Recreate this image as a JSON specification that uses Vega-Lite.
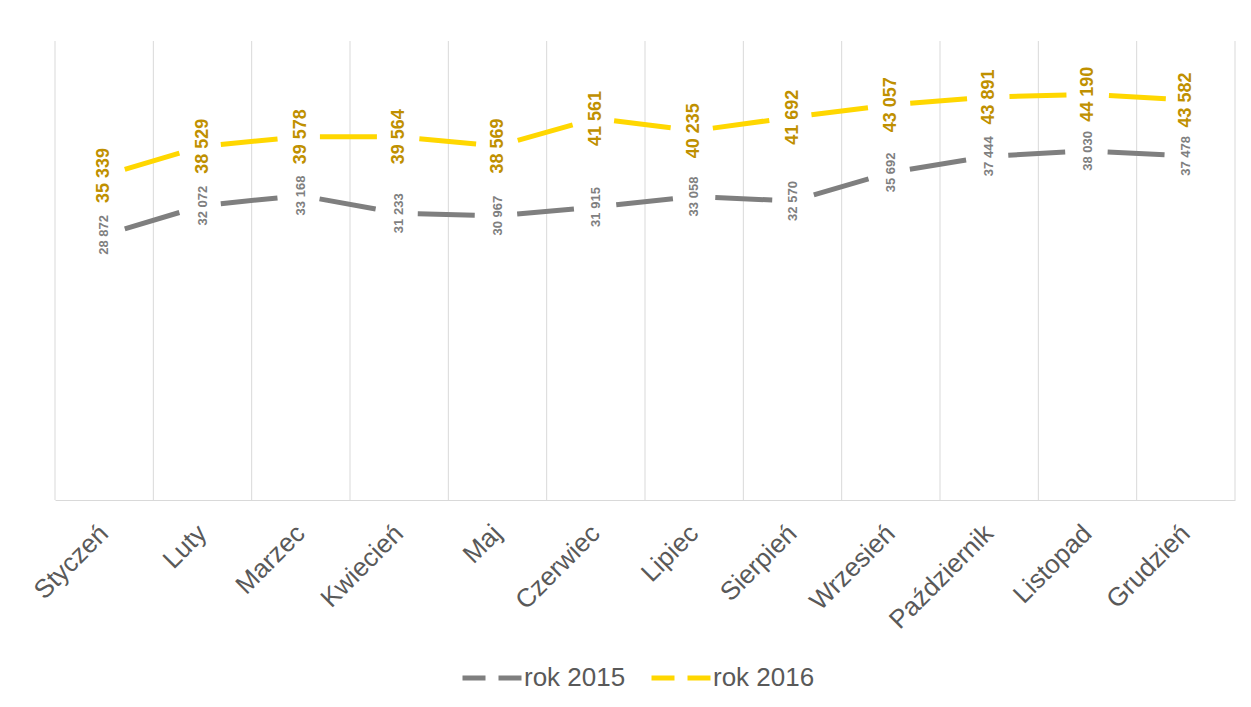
{
  "$schema": "https://vega.github.io/schema/vega-lite/v6.json",
  "width": 1180,
  "height": 459,
  "autosize": {"type": "none"},
  "padding": {"left": 55, "top": 41, "right": 16, "bottom": 207},
  "background": "white",
  "config": {
    "font": "Liberation Sans",
    "view": {"stroke": null},
    "locale": {"number": {"decimal": ",", "thousands": "\u00a0", "grouping": [3], "currency": ["", " zł"]}}
  },
  "data": {
    "values": [
      {"month": "Styczeń", "series": "rok 2015", "value": 28872},
      {"month": "Luty", "series": "rok 2015", "value": 32072},
      {"month": "Marzec", "series": "rok 2015", "value": 33168},
      {"month": "Kwiecień", "series": "rok 2015", "value": 31233},
      {"month": "Maj", "series": "rok 2015", "value": 30967},
      {"month": "Czerwiec", "series": "rok 2015", "value": 31915},
      {"month": "Lipiec", "series": "rok 2015", "value": 33058},
      {"month": "Sierpień", "series": "rok 2015", "value": 32570},
      {"month": "Wrzesień", "series": "rok 2015", "value": 35692},
      {"month": "Październik", "series": "rok 2015", "value": 37444},
      {"month": "Listopad", "series": "rok 2015", "value": 38030},
      {"month": "Grudzień", "series": "rok 2015", "value": 37478},
      {"month": "Styczeń", "series": "rok 2016", "value": 35339},
      {"month": "Luty", "series": "rok 2016", "value": 38529},
      {"month": "Marzec", "series": "rok 2016", "value": 39578},
      {"month": "Kwiecień", "series": "rok 2016", "value": 39564},
      {"month": "Maj", "series": "rok 2016", "value": 38569},
      {"month": "Czerwiec", "series": "rok 2016", "value": 41561},
      {"month": "Lipiec", "series": "rok 2016", "value": 40235},
      {"month": "Sierpień", "series": "rok 2016", "value": 41692},
      {"month": "Wrzesień", "series": "rok 2016", "value": 43057},
      {"month": "Październik", "series": "rok 2016", "value": 43891},
      {"month": "Listopad", "series": "rok 2016", "value": 44190},
      {"month": "Grudzień", "series": "rok 2016", "value": 43582}
    ]
  },
  "encoding": {
    "x": {
      "field": "month",
      "type": "nominal",
      "sort": null,
      "scale": {"type": "band", "paddingInner": 0, "paddingOuter": 0},
      "axis": {
        "title": null,
        "grid": false,
        "ticks": false,
        "domain": true,
        "domainColor": "#d9d9d9",
        "domainWidth": 1,
        "labelAngle": -45,
        "labelAlign": "right",
        "labelBaseline": "middle",
        "labelPadding": 29,
        "labelFontSize": 26,
        "labelColor": "#595959",
        "labelFont": "Liberation Sans"
      }
    }
  },
  "layer": [
    {
      "transform": [{"filter": "datum.series === 'rok 2015'"}],
      "mark": {"type": "rule", "color": "#d9d9d9", "strokeWidth": 1},
      "encoding": {
        "x": {"field": "month", "type": "nominal", "sort": null, "bandPosition": 0}
      }
    },
    {
      "transform": [{"filter": "datum.series === 'rok 2015' && datum.month === 'Grudzień'"}],
      "mark": {"type": "rule", "color": "#d9d9d9", "strokeWidth": 1},
      "encoding": {
        "x": {"field": "month", "type": "nominal", "sort": null, "bandPosition": 1}
      }
    },
    {
      "mark": {"type": "line", "strokeWidth": 5, "strokeCap": "butt", "strokeDash": [57, 42.5], "strokeDashOffset": 78},
      "encoding": {
        "y": {"field": "value", "type": "quantitative", "scale": {"domain": [0, 50000], "nice": false, "zero": true}, "axis": null},
        "color": {
          "field": "series",
          "type": "nominal",
          "scale": {"domain": ["rok 2015", "rok 2016"], "range": ["#7f7f7f", "#FFD700"]},
          "legend": {
            "title": null,
            "orient": "none",
            "direction": "horizontal",
            "legendX": 405,
            "legendY": 605,
            "symbolType": "stroke",
            "symbolSize": 3481,
            "symbolStrokeWidth": 5,
            "symbolDash": [23, 13],
            "symbolDashOffset": 0,
            "labelFontSize": 26,
            "labelColor": "#595959",
            "labelFont": "Liberation Sans",
            "labelOffset": 0,
            "columnPadding": 15
          }
        }
      }
    },
    {
      "transform": [{"filter": "datum.series === 'rok 2015'"}],
      "mark": {"type": "text", "angle": -90, "align": "center", "baseline": "middle", "fontSize": 13, "fontWeight": "bold", "color": "#7f7f7f"},
      "encoding": {
        "y": {"field": "value", "type": "quantitative"},
        "text": {"field": "value", "type": "quantitative", "format": ","}
      }
    },
    {
      "transform": [{"filter": "datum.series === 'rok 2016'"}],
      "mark": {"type": "text", "angle": -90, "align": "center", "baseline": "middle", "fontSize": 18, "fontWeight": "bold", "color": "#BF9000"},
      "encoding": {
        "y": {"field": "value", "type": "quantitative"},
        "text": {"field": "value", "type": "quantitative", "format": ","}
      }
    }
  ]
}
